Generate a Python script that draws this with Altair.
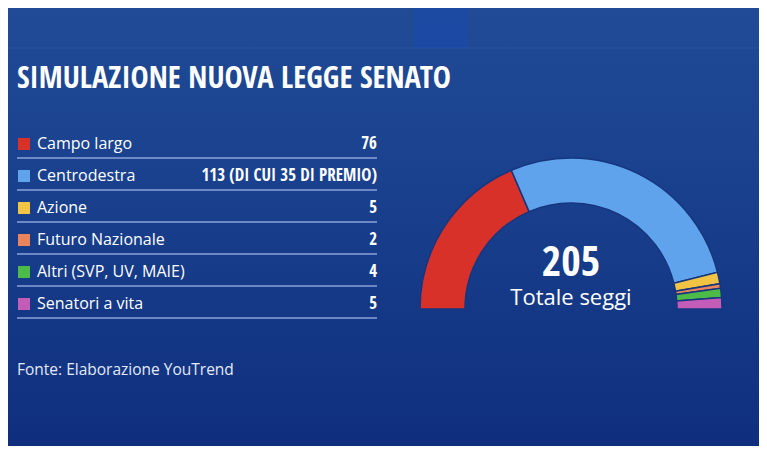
import math
import altair as alt
import pandas as pd

parties = ["Campo largo", "Centrodestra", "Azione", "Futuro Nazionale",
           "Altri (SVP, UV, MAIE)", "Senatori a vita"]
seats = [76, 113, 5, 2, 4, 5]
value_labels = ["76", "113 (DI CUI 35 DI PREMIO)", "5", "2", "4", "5"]
colors = ["#d8312a", "#5ea3ec", "#f2c443", "#e9845c", "#4cbb47", "#c35db8"]
title_text = ["SIMULAZIONE NUOVA LEGGE SENATO"]
total_text = ["205"]
total_label = ["Totale seggi"]
source_text = ["Fonte: Elaborazione YouTrend"]

W, H = 751, 438
CX, CY = 563, 301
COND = "Open Sans Condensed"

df = pd.DataFrame({"party": parties, "seats": seats, "label": value_labels,
                   "idx": list(range(len(parties)))})

color_scale = alt.Scale(domain=parties, range=colors)
yscale = alt.Scale(type="point", domain=parties, range=[136, 296], padding=0)
one = pd.DataFrame({"a": [0]})

bg = alt.Chart(one).mark_rect(
    fill=alt.Gradient(
        gradient="linear",
        stops=[alt.GradientStop(color="#214b96", offset=0),
               alt.GradientStop(color="#1a428f", offset=0.35),
               alt.GradientStop(color="#0f2f7e", offset=1)],
        x1=0, x2=0, y1=0, y2=1),
).encode(x=alt.value(0), x2=alt.value(W), y=alt.value(0), y2=alt.value(H))

band = alt.Chart(one).mark_rect(fill="#1b4aa6", opacity=0.8).encode(
    x=alt.value(407), x2=alt.value(459), y=alt.value(0), y2=alt.value(40))
topline = alt.Chart(one).mark_rule(color="#3b66b5", opacity=0.35, strokeWidth=1).encode(
    x=alt.value(0), x2=alt.value(W), y=alt.value(40))

arc = alt.Chart(df).mark_arc(radius=151, radius2=106, stroke="#16367f", strokeWidth=1.5).encode(
    theta=alt.Theta("seats:Q", stack=True,
                    scale=alt.Scale(range=[-math.pi / 2, math.pi / 2])),
    order=alt.Order("idx:Q"),
    color=alt.Color("party:N", scale=color_scale, legend=None),
    x=alt.value(CX), y=alt.value(CY),
)

squares = alt.Chart(df).mark_square(size=144, opacity=1).encode(
    x=alt.value(16),
    y=alt.Y("party:N", scale=yscale, axis=None),
    color=alt.Color("party:N", scale=color_scale, legend=None),
)

names = alt.Chart(df).mark_text(align="left", baseline="middle", font="Open Sans",
                                fontSize=16, color="white").encode(
    x=alt.value(29), y=alt.Y("party:N", scale=yscale, axis=None), text="party:N")

values = alt.Chart(df).mark_text(align="right", baseline="middle",
                                 font=COND, fontWeight="bold",
                                 fontSize=17, color="white").encode(
    x=alt.value(369), y=alt.Y("party:N", scale=yscale, axis=None), text="label:N")

rules = alt.Chart(df).mark_rule(color="#9fb5e6", opacity=0.85, strokeWidth=1.5,
                                yOffset=14).encode(
    x=alt.value(9), x2=alt.value(369), y=alt.Y("party:N", scale=yscale, axis=None))

title = alt.Chart(pd.DataFrame({"t": title_text})).mark_text(
    align="left", baseline="alphabetic", font=COND,
    fontWeight="bold", fontSize=30.5, color="white").encode(
    x=alt.value(9), y=alt.value(80), text="t:N")

total = alt.Chart(pd.DataFrame({"t": total_text})).mark_text(
    align="center", baseline="alphabetic", font=COND,
    fontWeight="bold", fontSize=42, color="white").encode(
    x=alt.value(CX), y=alt.value(268), text="t:N")

total_lbl = alt.Chart(pd.DataFrame({"t": total_label})).mark_text(
    align="center", baseline="alphabetic", font="Open Sans",
    fontSize=22, color="white").encode(
    x=alt.value(CX), y=alt.value(297), text="t:N")

source = alt.Chart(pd.DataFrame({"t": source_text})).mark_text(
    align="left", baseline="alphabetic", font="Open Sans",
    fontSize=15.5, color="#e2e9f7").encode(
    x=alt.value(9), y=alt.value(367), text="t:N")

chart = alt.layer(bg, band, topline, arc, rules, squares, names, values,
                  title, total, total_lbl, source).properties(
    width=W, height=H, padding=0, autosize=alt.AutoSizeParams(type="none"),
    background="#1a3f8c",
).configure_view(stroke=None)

chart.save("out.html", embed_options={"renderer": "svg", "actions": False})
